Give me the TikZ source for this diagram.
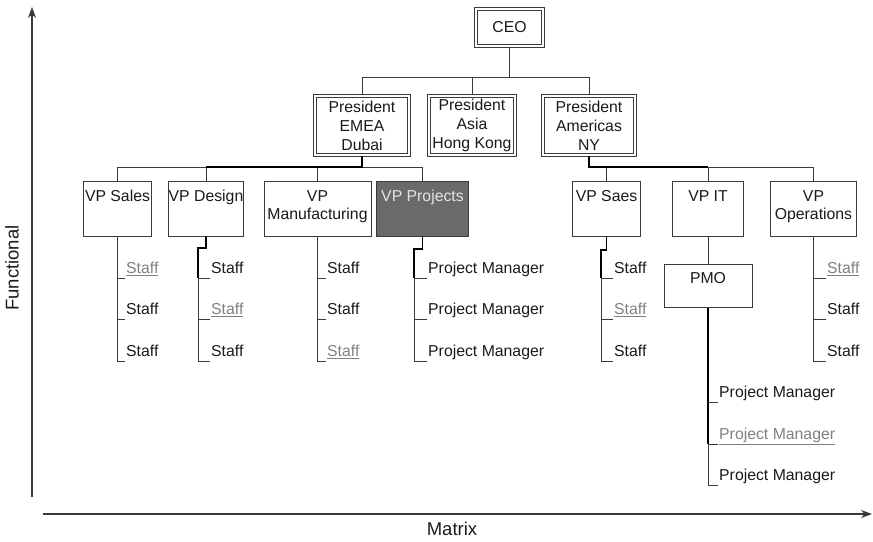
\documentclass[tikz,border=0pt]{standalone}
\usepackage{fontspec}
\setmainfont{Liberation Sans}
\usetikzlibrary{arrows.meta}
\definecolor{ink}{HTML}{1A1A1A}
\definecolor{edge}{HTML}{3A3A3A}
\definecolor{dim}{HTML}{808080}
\definecolor{shade}{HTML}{6A6A6A}
\definecolor{pale}{HTML}{E4E4E4}
\begin{document}
\begin{tikzpicture}[x=1pt,y=-1pt,
  every node/.style={text=ink, font=\fontsize{15.8}{19}\selectfont},
  dbox/.style={draw=edge, line width=0.8pt, double=white, double distance=2pt,
    fill=white, inner sep=0pt, align=center},
  vbox/.style={draw=edge, line width=1pt, fill=white, inner sep=0pt,
    minimum height=55pt},
  vtext/.style={anchor=north, align=center, inner sep=0pt, yshift=-9pt,
    font=\fontsize{15.8}{18}\selectfont},
  conn/.style={draw=edge, line width=1pt},
  bold/.style={draw=black, line width=1.8pt},
  item/.style={anchor=south west, inner xsep=1pt, inner ysep=0pt, text depth=4pt},
  faded/.style={item, text=dim},
  axis/.style={draw=edge, line width=1.2pt, -{Stealth[length=11pt,width=8pt]}},
  axislabel/.style={font=\fontsize{18.5}{22}\selectfont}
]
\useasboundingbox (0,0) rectangle (873,541);

% ---- top levels ----
\node[dbox, minimum width=67.4pt, minimum height=37.4pt] (ceo) at (509.5,27.5) {CEO};
\node[dbox, minimum width=94.4pt, minimum height=59.4pt] (emea) at (362,125.5) {President\\EMEA\\Dubai};
\node[dbox, minimum width=86.4pt, minimum height=59.4pt] (asia) at (472,125.5) {President\\Asia\\Hong Kong};
\node[dbox, minimum width=92.4pt, minimum height=59.4pt] (amer) at (589,125.5) {President\\Americas\\NY};

\coordinate (b1) at (509.5,77);
\coordinate (b2) at (509.5,167);

\draw[conn] (ceo.south) -- (b1);
\draw[conn] (emea.north) -- (emea.north |- b1) -- (amer.north |- b1) -- (amer.north);
\draw[conn] (asia.north) -- (asia.north |- b1);

% ---- VP row ----
\node[vbox, minimum width=68pt, label={[vtext]north:VP Sales}] (vs) at (117.5,209) {};
\node[vbox, minimum width=75pt, label={[vtext]north:VP Design}] (vd) at (206,209) {};
\node[vbox, minimum width=107pt, label={[vtext]north:VP\\Manufacturing}] (vm) at (317.5,209) {};
\node[vbox, minimum width=92pt, fill=shade, label={[vtext, text=pale]north:VP Projects}] (vpj) at (422.5,209) {};
\node[vbox, minimum width=68pt, label={[vtext]north:VP Saes}] (vsa) at (606.5,209) {};
\node[vbox, minimum width=71pt, label={[vtext]north:VP IT}] (vit) at (708,209) {};
\node[vbox, minimum width=86pt, label={[vtext]north:VP\\Operations}] (vo) at (813.5,209) {};
\node[vbox, minimum width=88pt, minimum height=43pt, label={[vtext, yshift=1pt]north:PMO}] (pmo) at (708,286) {};

% EMEA branch
\draw[conn] (vs.north) -- (vs.north |- b2) -- (vpj.north |- b2) -- (vpj.north);
\draw[conn] (vd.north) -- (vd.north |- b2);
\draw[conn] (vm.north) -- (vm.north |- b2);
\draw[bold] (emea.south) -- (emea.south |- b2) -- (vd.north |- b2);
% Americas branch
\draw[conn] (vsa.north) -- (vsa.north |- b2) -- (vo.north |- b2) -- (vo.north);
\draw[conn] (vit.north) -- (vit.north |- b2);
\draw[bold] (amer.south) -- (amer.south |- b2) -- (vit.north |- b2);
\draw[conn] (vit.south) -- (pmo.north);

% ---- staff lists ----
\node[faded] (s1) at (125,278) {\underline{Staff}};
\node[item]  (s2) at (125,319) {Staff};
\node[item]  (s3) at (125,361) {Staff};

\node[item]  (d1) at (210,278) {Staff};
\node[faded] (d2) at (210,319) {\underline{Staff}};
\node[item]  (d3) at (210,361) {Staff};

\node[item]  (m1) at (326,278) {Staff};
\node[item]  (m2) at (326,319) {Staff};
\node[faded] (m3) at (326,361) {\underline{Staff}};

\node[item] (p1) at (427,278) {Project Manager};
\node[item] (p2) at (427,319) {Project Manager};
\node[item] (p3) at (427,361) {Project Manager};

\node[item]  (a1) at (613,278) {Staff};
\node[faded] (a2) at (613,319) {\underline{Staff}};
\node[item]  (a3) at (613,361) {Staff};

\node[faded] (o1) at (826,278) {\underline{Staff}};
\node[item]  (o2) at (826,319) {Staff};
\node[item]  (o3) at (826,361) {Staff};

\node[item]  (q1) at (718,402) {Project Manager};
\node[faded] (q2) at (718,444) {\underline{Project Manager}};
\node[item]  (q3) at (718,485) {Project Manager};

% VP Sales
\draw[conn] (vs.south) -- (vs.south |- s3.south west) -- (s3.south west);
\draw[conn] (s1.south west) -- (vs.south |- s1.south west);
\draw[conn] (s2.south west) -- (vs.south |- s2.south west);

% VP Design (trunk steps left)
\coordinate (dj) at (198,248);
\draw[bold, line width=1.5pt] (vd.south) |- (dj) -- (dj |- d1.south west);
\draw[conn] (dj |- d1.south west) -- (dj |- d3.south west) -- (d3.south west);
\draw[conn] (d1.south west) -- (dj |- d1.south west);
\draw[conn] (d2.south west) -- (dj |- d2.south west);

% VP Manufacturing
\draw[conn] (vm.south) -- (vm.south |- m3.south west) -- (m3.south west);
\draw[conn] (m1.south west) -- (vm.south |- m1.south west);
\draw[conn] (m2.south west) -- (vm.south |- m2.south west);

% VP Projects
\coordinate (pj) at (414,249);
\draw[bold, line width=1.5pt] (vpj.south) |- (pj) -- (pj |- p1.south west);
\draw[conn] (pj |- p1.south west) -- (pj |- p3.south west) -- (p3.south west);
\draw[conn] (p1.south west) -- (pj |- p1.south west);
\draw[conn] (p2.south west) -- (pj |- p2.south west);

% VP Saes
\coordinate (aj) at (601,250);
\draw[bold, line width=1.5pt] (vsa.south) |- (aj) -- (aj |- a1.south west);
\draw[conn] (aj |- a1.south west) -- (aj |- a3.south west) -- (a3.south west);
\draw[conn] (a1.south west) -- (aj |- a1.south west);
\draw[conn] (a2.south west) -- (aj |- a2.south west);

% VP Operations
\draw[conn] (vo.south) -- (vo.south |- o3.south west) -- (o3.south west);
\draw[conn] (o1.south west) -- (vo.south |- o1.south west);
\draw[conn] (o2.south west) -- (vo.south |- o2.south west);

% PMO
\draw[bold, line width=1.6pt] (pmo.south) -- (pmo.south |- q2.south west);
\draw[conn] (pmo.south |- q2.south west) -- (pmo.south |- q3.south west) -- (q3.south west);
\draw[conn] (q1.south west) -- (pmo.south |- q1.south west);
\draw[conn] (q2.south west) -- (pmo.south |- q2.south west);

% ---- axes ----
\coordinate (ybot) at (32,497);
\coordinate (ytop) at (32,7);
\coordinate (xleft) at (43,514);
\coordinate (xright) at (872,514);
\draw[axis] (ybot) -- (ytop);
\draw[axis] (xleft) -- (xright);
\node[axislabel, rotate=90] (func) at (12,268) {Functional};
\node[axislabel] (mat) at (452,529) {Matrix};
\end{tikzpicture}
\end{document}
